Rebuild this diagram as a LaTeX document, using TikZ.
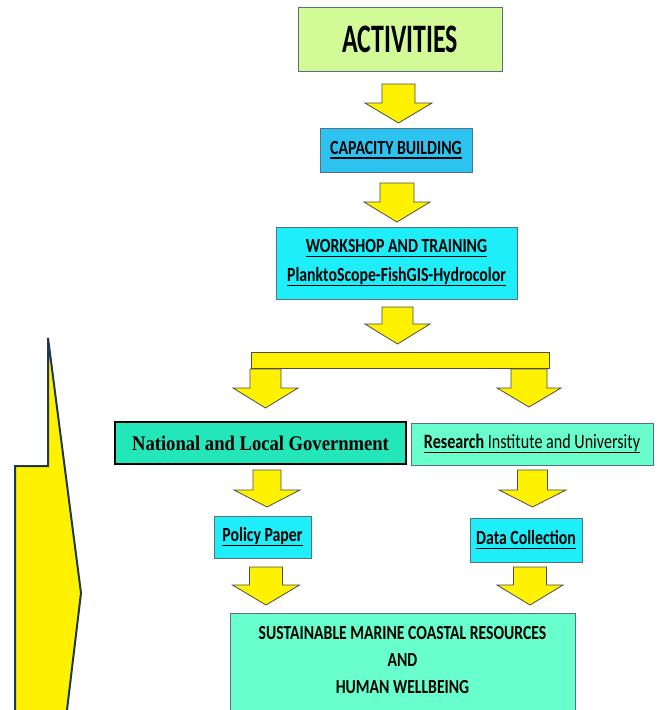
\documentclass[tikz,border=0pt]{standalone}
\usepackage{fontspec}
\setmainfont{Carlito}
\newfontfamily\tmsfont{Liberation Serif}
\usepackage{graphicx}
\newcommand\ulx[1]{\leavevmode\setbox0\hbox{#1}\rlap{\rule[-0.22em]{\wd0}{0.075em}}\box0}
\newcommand\vs[1]{\scalebox{1}[1.27]{#1}}
\newcommand\dnarrow[6]{\draw[blk] ({#1-#5},#2) -- ({#1+#5},#2) -- ({#1+#5},#3) -- ({#1+#6},#3) -- (#1,#4) -- ({#1-#6},#3) -- ({#1-#5},#3) -- cycle;}
\definecolor{actgreen}{RGB}{210,250,150}
\definecolor{capblue}{RGB}{45,195,240}
\definecolor{cyanbox}{RGB}{30,238,250}
\definecolor{turq}{RGB}{35,230,185}
\definecolor{aqua}{RGB}{105,255,205}
\definecolor{edgegray}{RGB}{90,110,125}
\definecolor{bigedge}{RGB}{30,55,85}
\begin{document}
\begin{tikzpicture}[x=1pt,y=-1pt,
  box/.style={draw=edgegray, line width=1pt, inner sep=0pt, align=center,
    font=\bfseries\fontsize{15.8}{19}\selectfont,
    execute at begin node={\lineskiplimit=-100pt}},
  blk/.style={draw=black!70, line width=0.8pt, fill=yellow, line join=miter},
  bigarrow/.style={draw=bigedge, line width=2pt, fill=yellow, line join=miter}
]
\clip (0,0) rectangle (667,710);
\fill[white] (0,0) rectangle (667,710);

% big left arrow
\draw[bigarrow] (48,338) -- (48,466) -- (15,466) -- (15,730) -- (64.6,730) -- (81,593) -- cycle;

% boxes
\node[box, fill=actgreen, minimum width=204, minimum height=64,
  font=\bfseries\fontsize{25.9}{30}\selectfont] (act) at (400,39) {\scalebox{1}[1.56]{ACTIVITIES}};
\node[box, fill=capblue, minimum width=152, minimum height=44] (cap) at (396,150)
  {\vs{\ulx{CAPACITY BUILDING}}};
\node[box, fill=cyanbox, minimum width=241, minimum height=72,
  font=\bfseries\fontsize{15.8}{29}\selectfont] (work) at (396.5,263)
  {\vs{\ulx{WORKSHOP AND TRAINING}}\\\vs{\ulx{PlanktoScope-FishGIS-Hydrocolor}}};
\node[box, fill=yellow, draw=black!70, line width=0.8pt, minimum width=298, minimum height=16] (bar) at (400,360) {};
\node[box, fill=turq, draw=black, line width=2pt, minimum width=291, minimum height=42,
  font=\tmsfont\bfseries\fontsize{18.6}{22}\selectfont] (nat) at (260.5,443)
  {\scalebox{1}[1.12]{National and Local Government}};
\node[box, fill=aqua, minimum width=242, minimum height=42,
  font=\fontsize{16.1}{19}\selectfont] (res) at (532,444)
  {\vs{\ulx{\textbf{Research} Institute and University}}};
\node[box, fill=cyanbox, minimum width=97, minimum height=42] (pol) at (262.5,537)
  {\vs{\ulx{Policy Paper}}};
\node[box, fill=cyanbox, minimum width=112, minimum height=44] (dat) at (526,540)
  {\vs{\ulx{Data Collection}}};
\node[box, fill=aqua, minimum width=345, minimum height=98] (goal) at (402.5,662) {};
\node[inner sep=0pt, align=center, font=\bfseries\fontsize{15.7}{27}\selectfont,
  execute at begin node={\lineskiplimit=-100pt}] (goaltxt) at (402.5,660)
  {\vs{SUSTAINABLE MARINE COASTAL RESOURCES}\\\vs{AND}\\\vs{HUMAN WELLBEING}};

% block arrows
\dnarrow{398.5}{84}{103}{123}{16.5}{33.5}
\dnarrow{397}{183}{202}{222}{17}{33}
\dnarrow{397.5}{307}{324}{344}{15.5}{32.5}
\dnarrow{265.5}{369}{388}{408}{15.5}{32.5}
\dnarrow{529}{369}{388}{407}{18}{32}
\dnarrow{267}{470}{490}{507}{14}{33}
\dnarrow{532.5}{470}{490}{507}{15}{33.5}
\dnarrow{266}{567}{585}{605}{16.5}{33.5}
\dnarrow{530}{567}{585}{605}{16.5}{33}
\end{tikzpicture}
\end{document}
